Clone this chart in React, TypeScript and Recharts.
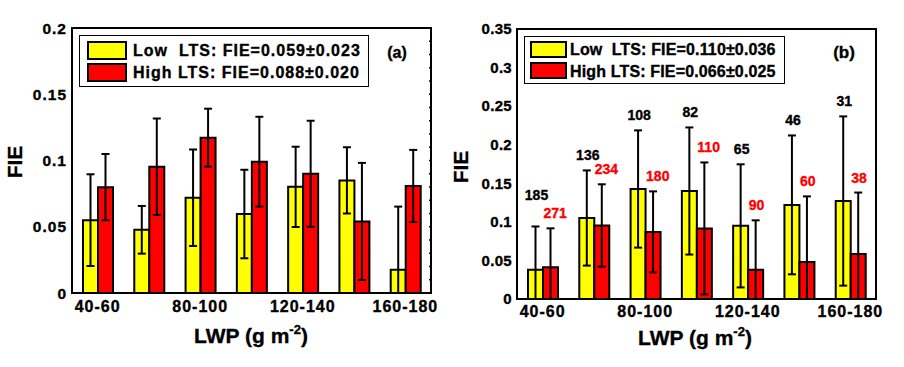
import React from 'react';
import { ComposedChart, Bar, Line, XAxis, YAxis, ErrorBar, ReferenceArea, Legend, LabelList } from 'recharts';

const categories = ['40-60', '60-80', '80-100', '100-120', '120-140', '140-160', '160-180'];

// Panel (a)
const aLowFIE = [0.055, 0.0477, 0.0719, 0.0596, 0.0801, 0.085, 0.0176];
const aLowErr = [0.0346, 0.018, 0.0364, 0.0334, 0.0303, 0.025, 0.0476];
const aHighFIE = [0.0799, 0.0953, 0.1172, 0.0991, 0.09, 0.054, 0.0808];
const aHighErr = [0.025, 0.0364, 0.0219, 0.0339, 0.04, 0.0442, 0.0272];
const aTicks = [0, 0.05, 0.1, 0.15, 0.2];
const aMinorTicks = [0.01, 0.02, 0.03, 0.04, 0.05, 0.06, 0.07, 0.08, 0.09, 0.1, 0.11, 0.12, 0.13, 0.14, 0.15, 0.16, 0.17, 0.18, 0.19];
const aLegend = ['Low  LTS: FIE=0.059\u00b10.023', 'High LTS: FIE=0.088\u00b10.020'];

// Panel (b)
const bLowFIE = [0.038, 0.105, 0.1426, 0.14, 0.0948, 0.122, 0.127];
const bLowErr = [0.056, 0.0617, 0.076, 0.0824, 0.0798, 0.09, 0.1097];
const bHighFIE = [0.041, 0.0953, 0.087, 0.0915, 0.038, 0.048, 0.0583];
const bHighErr = [0.0506, 0.0534, 0.0525, 0.0855, 0.064, 0.085, 0.0797];
const bLowCount = [185, 136, 108, 82, 65, 46, 31];
const bHighCount = [271, 234, 180, 110, 90, 60, 38];
const bTicks = [0, 0.05, 0.1, 0.15, 0.2, 0.25, 0.3, 0.35];
const bLegend = ['Low  LTS: FIE=0.110\u00b10.036', 'High LTS: FIE=0.066\u00b10.025'];

const YELLOW = '#ffff00';
const RED = '#ff0000';
const FONT = '"Liberation Sans", Arial, Helvetica, sans-serif';
const HEAVY = 0.35;

const build = (low: number[], lowE: number[], high: number[], highE: number[], lc?: number[], hc?: number[]) =>
  categories.map((c, i) => ({
    cat: c,
    low: low[i],
    high: high[i],
    lowE: lowE[i],
    highE: highE[i],
    lowErr: [Math.min(lowE[i], low[i]), lowE[i]],
    highErr: [Math.min(highE[i], high[i]), highE[i]],
    lowCount: lc ? lc[i] : undefined,
    highCount: hc ? hc[i] : undefined,
  }));

const dataA = build(aLowFIE, aLowErr, aHighFIE, aHighErr);
const dataB = build(bLowFIE, bLowErr, bHighFIE, bHighErr, bLowCount, bHighCount);

const LegendBox = ({ labels, w, h, sw, shH, sx, sy1, sy2, tx, ty1, ty2, ls, fs }: any) => (
  <div style={{ position: 'relative', width: w, height: h, border: '1px solid #000', background: '#fff', boxSizing: 'border-box', fontFamily: FONT }}>
    <div style={{ position: 'absolute', left: sx, top: sy1, width: sw, height: shH, background: YELLOW, border: '2px solid #000', boxSizing: 'border-box' }} />
    <div style={{ position: 'absolute', left: sx, top: sy2, width: sw, height: shH, background: RED, border: '2px solid #000', boxSizing: 'border-box' }} />
    <svg style={{ position: 'absolute', left: 0, top: 0 }} width={w} height={h}>
      <text x={tx} y={ty1} fontSize={fs} fontWeight={700} fill="#000" stroke="#000" strokeWidth={HEAVY} letterSpacing={ls} style={{ whiteSpace: 'pre' }} xmlSpace="preserve">{labels[0]}</text>
      <text x={tx} y={ty2} fontSize={fs} fontWeight={700} fill="#000" stroke="#000" strokeWidth={HEAVY} letterSpacing={ls} style={{ whiteSpace: 'pre' }} xmlSpace="preserve">{labels[1]}</text>
    </svg>
  </div>
);

const countLabel = (which: 'low' | 'high') => (props: any) => {
  const vb = props.viewBox || {};
  const x = props.x ?? vb.x;
  const y = props.y ?? vb.y;
  const width = props.width ?? vb.width;
  const height = props.height ?? vb.height;
  const index = props.index;
  const d = dataB[index];
  if (!d || x == null) return null;
  const top = Math.min(y, y + height);
  const h = Math.abs(height);
  const bottom = top + h;
  const v = which === 'low' ? d.low : d.high;
  const px = h / v;
  const own = bottom - (v + (which === 'low' ? d.lowE : d.highE)) * px - 10;
  let ty = own;
  if (which === 'low') {
    const red = bottom - (d.high + d.highE) * px - 10;
    if (Math.abs(own - red) < 10) ty = red - 18;
  }
  const cx = x + width / 2;
  const col = which === 'low' ? '#000' : RED;
  return (
    <text
      x={which === 'low' ? cx + 1 : cx - 7}
      y={ty}
      textAnchor={which === 'low' ? 'middle' : 'start'}
      fontSize={14}
      fontWeight={700}
      fill={col}
      stroke={col}
      strokeWidth={HEAVY}
    >
      {which === 'low' ? d.lowCount : d.highCount}
    </text>
  );
};

const axisLine = { stroke: '#000', strokeWidth: 2 };
const tickStyle = (size: number, ls: number) => ({ fill: '#000', stroke: '#000', strokeWidth: HEAVY, fontSize: size, fontWeight: 700, letterSpacing: ls });

const MinorTick = (props: any) => {
  const { x, y } = props;
  if (x == null || y == null) return null;
  return <line x1={x - 2} y1={y} x2={x + 1} y2={y} stroke="#000" strokeWidth={1.5} />;
};

export default function App() {
  return (
    <div style={{ position: 'absolute', left: 0, top: 0, width: 904, height: 367, background: '#fff', fontFamily: FONT }}>
      <div style={{ position: 'absolute', left: 0, top: 0 }}>
        <ComposedChart width={450} height={367} data={dataA} margin={{ top: 28, right: 18, bottom: 0, left: 0 }} barGap={0} barSize={15}>
          <XAxis dataKey="cat" interval={1} tickLine={false} tickSize={0} tickMargin={8} height={74} axisLine={axisLine}
            tick={tickStyle(16, 1)} />
          <YAxis yAxisId="l" domain={[0, 0.2]} ticks={aTicks} width={72} tickLine={false} tickSize={0} tickMargin={5}
            axisLine={axisLine} allowDataOverflow tick={tickStyle(15.5, 1)} />
          <YAxis yAxisId="r" orientation="right" domain={[0, 0.2]} ticks={aMinorTicks} width={1} interval={0}
            tick={<MinorTick />} tickSize={0} tickMargin={0} tickLine={false} axisLine={false} allowDataOverflow />
          <ReferenceArea yAxisId="l" y1={0} y2={0.2} fill="none" stroke="#000" strokeWidth={2} ifOverflow="visible" />
          <Legend layout="vertical" align="center" verticalAlign="middle"
            wrapperStyle={{ left: 79, top: 35, width: 290, height: 52 }}
            content={() => <LegendBox labels={aLegend} w={290} h={52} sw={40} shH={19} sx={7} sy1={5} sy2={27} tx={53} ty1={20} ty2={42} ls={1} fs={16} />} />
          <Line yAxisId="r" dataKey="low" stroke="none" dot={false} activeDot={false} legendType="none" isAnimationActive={false} />
          <Bar yAxisId="l" dataKey="low" fill={YELLOW} stroke="#000" strokeWidth={2} isAnimationActive={false}>
            <ErrorBar dataKey="lowErr" width={4} stroke="#000" strokeWidth={2} />
          </Bar>
          <Bar yAxisId="l" dataKey="high" fill={RED} stroke="#000" strokeWidth={2} isAnimationActive={false}>
            <ErrorBar dataKey="highErr" width={4} stroke="#000" strokeWidth={2} />
          </Bar>
        </ComposedChart>
      </div>
      <div style={{ position: 'absolute', left: 450, top: 0 }}>
        <ComposedChart width={454} height={367} data={dataB} margin={{ top: 29, right: 28, bottom: 0, left: 0 }} barGap={0} barSize={15}>
          <XAxis dataKey="cat" interval={1} tickLine={false} tickSize={0} tickMargin={7} height={68} axisLine={axisLine}
            tick={tickStyle(16, 1)} />
          <YAxis yAxisId="l" domain={[0, 0.35]} ticks={bTicks} width={67} tickLine={false} tickSize={0} tickMargin={5}
            axisLine={axisLine} allowDataOverflow tick={tickStyle(15, 0.3)} />
          <ReferenceArea yAxisId="l" y1={0} y2={0.35} fill="none" stroke="#000" strokeWidth={2} ifOverflow="visible" />
          <Legend layout="vertical" align="center" verticalAlign="middle"
            wrapperStyle={{ left: 74, top: 36, width: 261, height: 48 }}
            content={() => <LegendBox labels={bLegend} w={261} h={48} sw={37} shH={17} sx={5} sy1={4} sy2={25} tx={45} ty1={18} ty2={40} ls={0.15} fs={16} />} />
          <Bar yAxisId="l" dataKey="low" fill={YELLOW} stroke="#000" strokeWidth={2} isAnimationActive={false}>
            <ErrorBar dataKey="lowErr" width={4} stroke="#000" strokeWidth={2} />
            <LabelList dataKey="lowCount" content={countLabel('low')} />
          </Bar>
          <Bar yAxisId="l" dataKey="high" fill={RED} stroke="#000" strokeWidth={2} isAnimationActive={false}>
            <ErrorBar dataKey="highErr" width={4} stroke="#000" strokeWidth={2} />
            <LabelList dataKey="highCount" content={countLabel('high')} />
          </Bar>
        </ComposedChart>
      </div>
      <svg width={904} height={367} style={{ position: 'absolute', left: 0, top: 0, pointerEvents: 'none' }} fontFamily={FONT}>
        <g fill="#000" stroke="#000" strokeWidth={HEAVY} fontWeight={700}>
          <text x={22} y={162} transform="rotate(-90, 22, 162)" textAnchor="middle" fontSize={21}>FIE</text>
          <text x={468} y={167} transform="rotate(-90, 468, 167)" textAnchor="middle" fontSize={21}>FIE</text>
          <text x={251} y={343} textAnchor="middle" fontSize={21}>
            LWP (g m<tspan fontSize={13} dy={-9}>-2</tspan><tspan dy={9}>)</tspan>
          </text>
          <text x={695} y={345} textAnchor="middle" fontSize={21}>
            LWP (g m<tspan fontSize={13} dy={-9}>-2</tspan><tspan dy={9}>)</tspan>
          </text>
          <text x={397} y={58} textAnchor="middle" fontSize={16}>(a)</text>
          <text x={844} y={58} textAnchor="middle" fontSize={17}>(b)</text>
        </g>
      </svg>
    </div>
  );
}
